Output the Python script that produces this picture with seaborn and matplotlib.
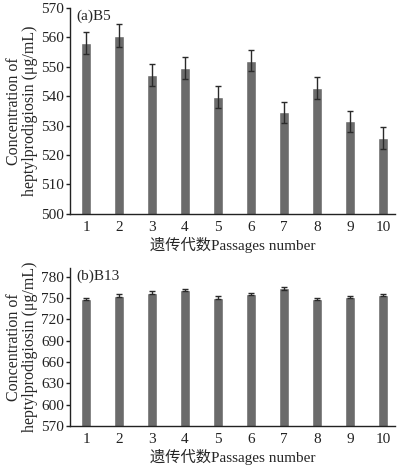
import matplotlib
matplotlib.use("Agg")
import matplotlib.pyplot as plt
import seaborn as sns
import numpy as np

passages = [str(i) for i in range(1, 11)]
b5_values = [558.2, 560.6, 547.2, 549.5, 539.8, 552.0, 534.5, 542.8, 531.5, 525.8]
b5_err = [3.7, 3.8, 3.7, 3.7, 3.7, 3.6, 3.7, 3.6, 3.6, 3.7]
b13_values = [748.5, 753.5, 757.5, 761.0, 750.5, 755.5, 763.5, 748.5, 751.0, 754.5]
b13_err = [1.6, 1.8, 1.8, 1.6, 1.8, 1.8, 1.8, 1.5, 1.6, 1.6]

sns.set_theme(style="ticks")
plt.rcParams['font.family'] = ['Liberation Serif', 'Noto Sans CJK SC']
plt.rcParams['font.size'] = 10

fig = plt.figure(figsize=(4.0, 4.68), dpi=100)
ax1 = fig.add_axes([0.175, 0.543, 0.812, 0.440])
ax2 = fig.add_axes([0.175, 0.090, 0.812, 0.337])

bar_color = "#6b6b6b"
ylabel = "Concentration of\nheptylprodigiosin (μg/mL)"
xlabel = "遗传代数Passages number"

def draw(ax, vals, errs, ylim, yticks, tag):
    sns.barplot(x=passages, y=vals, order=passages, color=bar_color,
                width=0.32, saturation=1, errorbar=None, ax=ax)
    ax.errorbar(x=np.arange(len(passages)), y=vals, yerr=errs, fmt="none",
                ecolor="#2a2a2a", elinewidth=1.0, capsize=2.5, capthick=1.0)
    ax.set_ylim(*ylim)
    ax.set_yticks(yticks)
    ax.set_xlim(-0.485, 9.36)
    sns.despine(ax=ax)
    for s in ["left", "bottom"]:
        ax.spines[s].set_linewidth(1.0)
        ax.spines[s].set_color("#222222")
    ax.tick_params(axis="y", direction="out", length=3, width=1.0,
                   labelsize=11, pad=1.5, colors="#222222")
    ax.tick_params(axis="x", length=0, labelsize=11, pad=5, colors="#222222")
    ax.set_ylabel(ylabel, fontsize=11.5, labelpad=2, linespacing=1.0)
    ax.set_xlabel(xlabel, fontsize=11, labelpad=2)
    ax.text(0.02, 0.99, tag, transform=ax.transAxes, ha="left", va="top",
            fontsize=11)

draw(ax1, b5_values, b5_err, (500, 570), list(range(500, 571, 10)), "(a)B5")
draw(ax2, b13_values, b13_err, (570, 792), list(range(570, 781, 30)), "(b)B13")

fig.savefig("out.png", dpi=100)
